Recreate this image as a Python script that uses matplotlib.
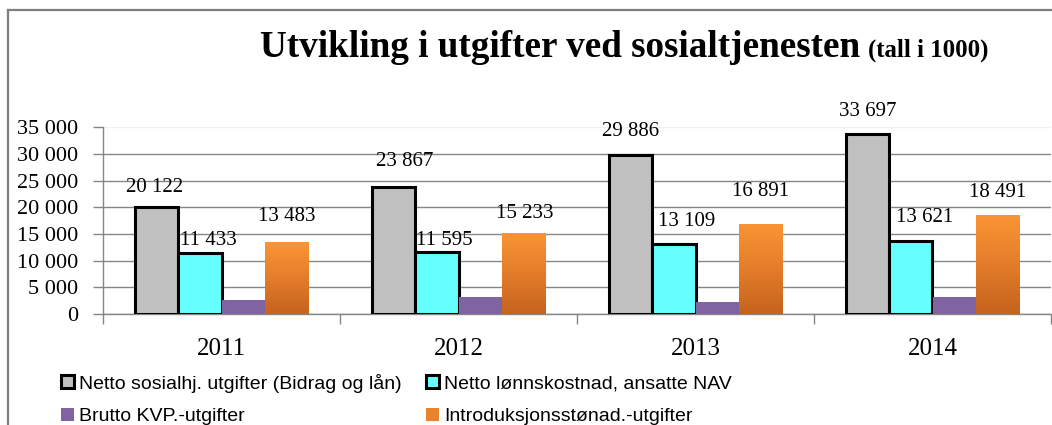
import matplotlib
matplotlib.use("Agg")
import matplotlib.pyplot as plt
from matplotlib.colors import LinearSegmentedColormap
from matplotlib.lines import Line2D
import numpy as np

years = ["2011", "2012", "2013", "2014"]
series_names = [
    "Netto sosialhj. utgifter (Bidrag og lån)",
    "Netto lønnskostnad, ansatte NAV",
    "Brutto KVP.-utgifter",
    "Introduksjonsstønad.-utgifter",
]
netto_sosialhjelp = [20122, 23867, 29886, 33697]
netto_lonn = [11433, 11595, 13109, 13621]
brutto_kvp = [2600, 3200, 2200, 3100]
introduksjon = [13483, 15233, 16891, 18491]

# label placement (pixels above bar top / sideways shift), as Excel placed them
label_dy = {0: [19, 25, 23, 23], 1: [13, 12, 23, 24], 3: [26, 19, 32, 23]}
label_dx = {0: [-2, 11, 0, 0], 1: [9, 8, 13, 14], 3: [0, 1, 0, 0]}

serif = "Liberation Serif"
sans = "Liberation Sans"

fig = plt.figure(figsize=(10.52, 4.25), dpi=100)
ax = fig.add_axes([103 / 1052, 0.2612, 948 / 1052, 0.4393])

x = np.arange(len(years))
w = 0.1835
values = [netto_sosialhjelp, netto_lonn, brutto_kvp, introduksjon]
faces = ["#C0C0C0", "#66FFFF", "#8064A2", "#E8832E"]
edges = ["black", "black", "none", "none"]
lws = [2.2, 2.2, 0, 0]

bar_sets = []
for i, vals in enumerate(values):
    bars = ax.bar(x + (i - 1.5) * w, vals, w, color=faces[i], edgecolor=edges[i],
                  linewidth=lws[i], label=series_names[i], zorder=3)
    bar_sets.append(bars)

# gradient fill on the orange bars
orange_cmap = LinearSegmentedColormap.from_list("org", ["#C5631D", "#E47D2A", "#F99535"])
grad = np.linspace(0, 1, 256).reshape(-1, 1)
for b in bar_sets[3]:
    x0, y0 = b.get_x(), b.get_y()
    im = ax.imshow(grad, cmap=orange_cmap, origin="lower", aspect="auto",
                   extent=[x0, x0 + b.get_width(), y0, y0 + b.get_height()], zorder=4)
    im.set_clip_path(b)

# value labels
for i in (0, 1, 3):
    for j, b in enumerate(bar_sets[i]):
        v = values[i][j]
        ax.annotate(f"{v:,}".replace(",", " "),
                    (b.get_x() + b.get_width() / 2, v),
                    xytext=(label_dx[i][j], label_dy[i][j]), textcoords="offset pixels",
                    ha="center", va="center", fontsize=15, family=serif, zorder=5)

ax.set_xlim(-0.5, 3.5)
ax.set_ylim(0, 35000)
ax.set_yticks(np.arange(0, 35001, 5000))
ax.set_yticklabels([f"{v:,}".replace(",", " ") for v in range(0, 35001, 5000)],
                   family=serif, fontsize=16)
ax.set_xticks(np.arange(-0.5, 3.6, 1))
ax.set_xticklabels([])
ax.set_xticks(x, minor=True)
ax.set_xticklabels(years, minor=True, family=serif, fontsize=18)
ax.tick_params(axis="x", which="major", length=7, color="#868686", width=1)
ax.tick_params(axis="x", which="minor", length=0, pad=17)
ax.tick_params(axis="y", length=7, color="#868686", width=1, pad=11)

ax.yaxis.grid(True, color="#868686", linewidth=1, zorder=0)
ax.get_ygridlines()[-1].set_color("#f0f0f0")
ax.set_axisbelow(True)
for s in ("top", "right"):
    ax.spines[s].set_visible(False)
for s in ("left", "bottom"):
    ax.spines[s].set_color("#868686")
    ax.spines[s].set_linewidth(1)

# title
fig.text(260 / 1052, 0.8666, "Utvikling i utgifter ved sosialtjenesten", family=serif,
         fontweight="bold", fontsize=26.7, ha="left", va="baseline")
fig.text(868 / 1052, 0.8666, "(tall i 1000)", family=serif, fontweight="bold",
         fontsize=17.9, ha="left", va="baseline")

# legend in two columns
handles = [bar_sets[0], bar_sets[2], bar_sets[1], bar_sets[3]]
labels = [series_names[0], series_names[2], series_names[1], series_names[3]]
fig.legend(handles, labels, ncol=2, loc="upper left", bbox_to_anchor=(0.058, 0.121),
           frameon=False, prop={"family": sans, "size": 14}, handlelength=0.65,
           handleheight=0.65, handletextpad=0.25, columnspacing=1.3, labelspacing=0.79,
           borderaxespad=0, borderpad=0)

# chart frame (top and left edges)
fig.add_artist(Line2D([8 / 1052, 8 / 1052], [0, 1 - 10 / 425], color="#7f7f7f", lw=1.6))
fig.add_artist(Line2D([8 / 1052, 1], [1 - 10 / 425, 1 - 10 / 425], color="#7f7f7f", lw=1.6))

fig.savefig("out.png", dpi=100)
